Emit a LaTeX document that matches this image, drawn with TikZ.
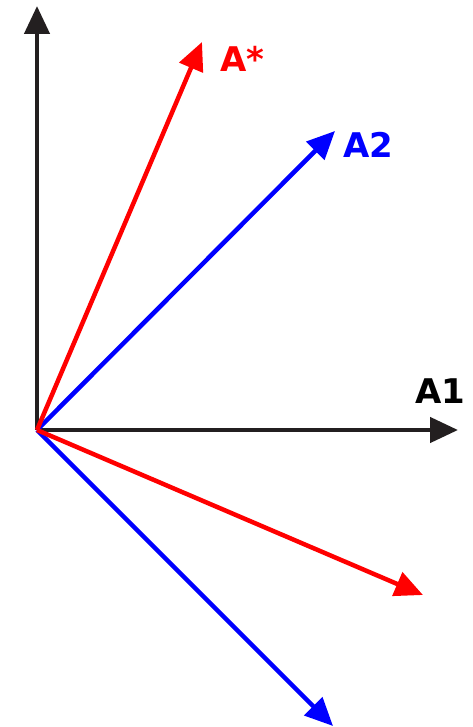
\documentclass[tikz,border=0pt]{standalone}
\usepackage{fontspec}
\setsansfont{DejaVu Sans}
\usepackage{xcolor}
\usetikzlibrary{arrows.meta}
\definecolor{axisblack}{RGB}{35,31,32}

\begin{document}
\begin{tikzpicture}[x=1pt, y=-1pt,
    vec/.style={-{Triangle[length=28pt, width=25pt]}, line width=4.5pt},
    lab/.style={font=\sffamily\bfseries\fontsize{34}{34}\selectfont, inner sep=0pt, anchor=base west}]
  \useasboundingbox (0,0) rectangle (472,727);
  \coordinate (O) at (37,430);
  \coordinate (yaxis) at (37,6);
  \coordinate (xaxis) at (458,430);
  \coordinate (astartip) at (202,42);
  \coordinate (atwotip) at (335,131);
  \coordinate (redtip) at (423,595);
  \coordinate (bluetip) at (333,726);
  \node[lab, text=red] (astar) at (220,72) {A*};
  \node[lab, text=blue] (atwo) at (343,158) {A2};
  \node[lab, text=black] (aone) at (415,403) {A1};
  \draw[vec, axisblack] (O) -- (yaxis);
  \draw[vec, axisblack] (O) -- (xaxis);
  \draw[vec, blue] (O) -- (atwotip);
  \draw[vec, blue] (O) -- (bluetip);
  \draw[vec, red] (O) -- (redtip);
  \draw[vec, red] (O) -- (astartip);
\end{tikzpicture}
\end{document}
